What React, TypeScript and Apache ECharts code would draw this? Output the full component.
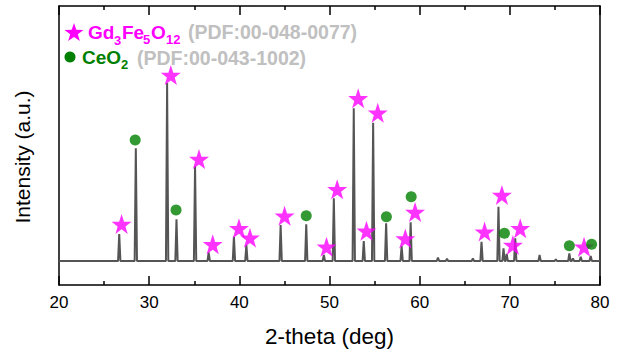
import React, { useEffect, useRef } from "react";
import * as echarts from "echarts";

// XRD pattern peaks: position (2-theta, deg) and relative intensity
const peakPos = [26.68, 28.52, 31.99, 33.03, 35.09, 36.6, 39.4, 40.78, 44.58, 47.42, 49.37, 50.48, 52.69, 53.8, 54.84, 56.28, 58.0, 59.0, 62.03, 63.03, 65.9, 66.86, 68.74, 69.3, 69.65, 70.6, 73.3, 75.1, 76.6, 77.0, 77.86, 78.97];
const peakInt = [15.2, 63.3, 100, 23.4, 53.4, 4.9, 13.7, 9.0, 20.2, 20.6, 3.4, 35.2, 85.8, 11.2, 77.7, 21.2, 8.4, 21.7, 1.9, 1.2, 1.5, 10.8, 30.5, 7.1, 4.0, 12.7, 3.4, 1.0, 4.3, 1.5, 2.4, 2.8];

// Gd3Fe5O12 star markers
const starX = [26.94, 32.4, 35.53, 37.05, 39.96, 41.18, 45.02, 49.67, 50.85, 53.18, 54.1, 55.35, 58.41, 59.49, 67.2, 69.12, 70.34, 71.15, 78.23];
const starY = [20.8, 104.5, 57.3, 9.4, 18.4, 13.1, 25.4, 8.0, 40.3, 91.4, 17.0, 83.3, 12.7, 27.5, 16.5, 37.1, 9.0, 18.4, 8.0];

// CeO2 circle markers
const circX = [28.45, 32.98, 47.42, 56.31, 59.06, 69.4, 76.6, 79.07];
const circY = [68.0, 28.7, 25.4, 24.9, 36.1, 15.6, 8.6, 9.4];

const xTicks = [20, 30, 40, 50, 60, 70, 80];

const STAR = "path://M50,0 L61.8,35.1 L98.1,35.1 L68.8,56.7 L79.4,90.5 L50,69.7 L20.6,90.5 L31.2,56.7 L1.9,35.1 L38.2,35.1 Z";
const FONT = "Liberation Sans, Arial, sans-serif";
const MAGENTA = "#FF00FF";
const GREEN = "#008000";
const GRAY = "#C0C0C0";

function starPoints(cx: number, cy: number, r: number) {
  const pts: number[][] = [];
  for (let i = 0; i < 10; i++) {
    const rr = i % 2 === 0 ? r : r * 0.4;
    const a = -Math.PI / 2 + (i * Math.PI) / 5;
    pts.push([cx + rr * Math.cos(a), cy + rr * Math.sin(a)]);
  }
  return pts;
}

function txt(text: string, x: number, y: number, size: number, fill: string) {
  return {
    type: "text",
    x,
    y,
    style: { text, fontSize: size, fontWeight: "bold", fontFamily: FONT, fill, verticalAlign: "middle" },
  };
}

export default function App() {
  const ref = useRef<HTMLDivElement>(null);
  useEffect(() => {
    if (!ref.current) return;
    const chart = echarts.init(ref.current, undefined, { renderer: "svg" });
    const w = 0.13;
    const lineData: number[][] = [[20, 0]];
    peakPos.forEach((p, i) => {
      lineData.push([p - w, 0], [p, peakInt[i]], [p + w, 0]);
    });
    lineData.push([80, 0]);

    const axisLine = { show: true, onZero: false, lineStyle: { color: "#000", width: 1.5 } };
    const tick = { show: true, inside: true, length: 9, lineStyle: { color: "#000", width: 1.5 } };
    const minor = { show: true, splitNumber: 2, length: 4, lineStyle: { color: "#000", width: 1.5 } };
    chart.setOption({
      animation: false,
      grid: { left: 59, right: 20, top: 6, bottom: 71 },
      xAxis: [
        {
          type: "value",
          min: 20,
          max: 80,
          interval: 10,
          position: "bottom",
          axisLine,
          axisTick: tick,
          minorTick: minor,
          axisLabel: {
            color: "#000",
            fontSize: 17,
            fontFamily: FONT,
            margin: 9,
            formatter: (v: number) => (xTicks.includes(v) ? String(v) : ""),
          },
          splitLine: { show: false },
          name: "2-theta (deg)",
          nameLocation: "middle",
          nameGap: 40,
          nameTextStyle: { color: "#000", fontSize: 22.5, fontFamily: FONT },
        },
        {
          type: "value",
          min: 20,
          max: 80,
          interval: 10,
          position: "top",
          axisLine,
          axisTick: tick,
          minorTick: minor,
          axisLabel: { show: false },
          splitLine: { show: false },
        },
      ],
      yAxis: [
        {
          type: "value",
          min: -13.5,
          max: 143.3,
          position: "left",
          axisLine,
          axisTick: { show: false },
          axisLabel: { show: false },
          splitLine: { show: false },
        },
        {
          type: "value",
          min: -13.5,
          max: 143.3,
          position: "right",
          axisLine,
          axisTick: { show: false },
          axisLabel: { show: false },
          splitLine: { show: false },
        },
      ],
      series: [
        {
          type: "line",
          data: lineData,
          symbol: "none",
          lineStyle: { color: "#555555", width: 2 },
          z: 2,
        },
        {
          type: "scatter",
          data: starX.map((x, i) => [x, starY[i]]),
          symbol: STAR,
          symbolSize: 20,
          itemStyle: { color: MAGENTA },
          z: 3,
        },
        {
          type: "scatter",
          data: circX.map((x, i) => [x, circY[i]]),
          symbol: "circle",
          symbolSize: 11,
          itemStyle: { color: GREEN },
          z: 3,
        },
      ],
      graphic: [
        {
          type: "text",
          x: 22,
          y: 157,
          rotation: Math.PI / 2,
          style: { text: "Intensity (a.u.)", fontSize: 21, fontFamily: FONT, fill: "#000", align: "center", verticalAlign: "middle" },
        },
        {
          type: "polygon",
          shape: { points: starPoints(74, 33, 10) },
          style: { fill: MAGENTA },
        },
        txt("Gd", 88, 32, 19, MAGENTA),
        txt("3", 114, 40, 13, MAGENTA),
        txt("Fe", 122, 32, 19, MAGENTA),
        txt("5", 143, 39, 13, MAGENTA),
        txt("O", 151, 32, 19, MAGENTA),
        txt("12", 166, 39, 13, MAGENTA),
        txt("(PDF:00-048-0077)", 188, 32, 19.5, GRAY),
        {
          type: "circle",
          shape: { cx: 70, cy: 57, r: 5.5 },
          style: { fill: GREEN },
        },
        txt("CeO", 82, 57.5, 19, GREEN),
        txt("2", 121, 64, 13, GREEN),
        txt("(PDF:00-043-1002)", 137, 57.5, 19.5, GRAY),
      ],
    });
    return () => chart.dispose();
  }, []);
  return <div ref={ref} style={{ position: "absolute", left: 0, top: 0, width: 620, height: 356 }} />;
}
